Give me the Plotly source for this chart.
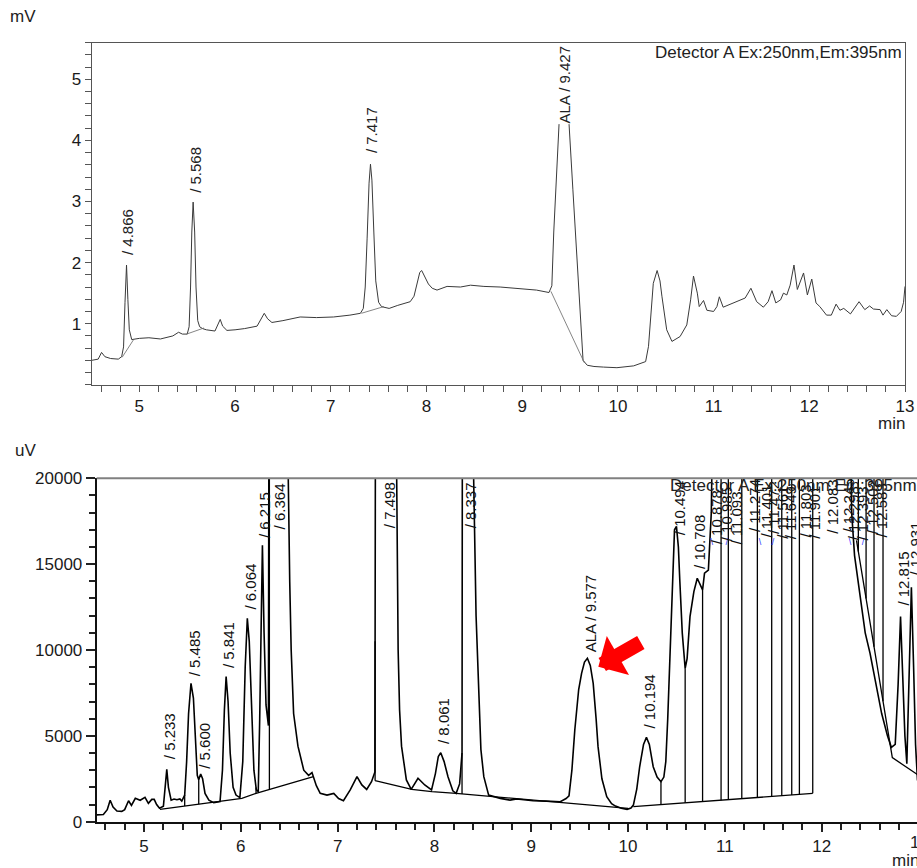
import numpy as np
import plotly.graph_objects as go

# ---------------- DATA ----------------
# Top chromatogram (Detector A, mV) – retention time (min) / signal
top_t = [4.50, 4.57, 4.605, 4.64, 4.70, 4.78, 4.815, 4.835, 4.850, 4.866, 4.880, 4.895, 4.92, 4.96,
         5.00, 5.10, 5.22, 5.35, 5.41, 5.45, 5.50, 5.52, 5.535, 5.548, 5.562, 5.578, 5.592, 5.61,
         5.63, 5.66, 5.70, 5.79, 5.82, 5.845, 5.87, 5.915, 6.00, 6.10, 6.23, 6.27, 6.305, 6.34,
         6.385, 6.50, 6.68, 6.85, 7.03, 7.20, 7.31, 7.34, 7.36, 7.38, 7.40, 7.415, 7.43, 7.45,
         7.47, 7.50, 7.53, 7.555, 7.61, 7.70, 7.83, 7.87, 7.90, 7.93, 7.95, 7.98, 8.02, 8.06,
         8.11, 8.215, 8.355, 8.46, 8.60, 8.77, 9.02, 9.15, 9.28, 9.31, 9.33, 9.36, 9.385, 9.44,
         9.49, 9.53, 9.556, 9.585, 9.61, 9.636, 9.68, 9.75, 9.85, 9.99, 10.165, 10.29, 10.32,
         10.35, 10.37, 10.41, 10.44, 10.46, 10.49, 10.51, 10.565, 10.65, 10.72, 10.76, 10.79,
         10.83, 10.85, 10.895, 10.93, 11.00, 11.035, 11.06, 11.10, 11.21, 11.33, 11.39, 11.45,
         11.52, 11.57, 11.61, 11.65, 11.70, 11.73, 11.765, 11.80, 11.84, 11.875, 11.94, 11.98,
         12.026, 12.07, 12.11, 12.18, 12.23, 12.28, 12.32, 12.36, 12.43, 12.52, 12.58, 12.63,
         12.67, 12.74, 12.77, 12.81, 12.86, 12.91, 12.96, 12.985, 13.00]
top_mv = [0.40, 0.42, 0.53, 0.46, 0.43, 0.42, 0.46, 0.62, 1.35, 1.96, 1.40, 0.90, 0.74, 0.75,
          0.76, 0.77, 0.75, 0.80, 0.86, 0.83, 0.83, 0.95, 1.60, 2.50, 2.99, 2.50, 1.60, 1.05,
          0.95, 0.92, 0.90, 0.88, 0.98, 1.07, 0.96, 0.89, 0.90, 0.92, 0.96, 1.08, 1.17, 1.08,
          1.02, 1.05, 1.11, 1.10, 1.11, 1.14, 1.17, 1.25, 1.60, 2.40, 3.30, 3.61, 3.35, 2.50,
          1.70, 1.35, 1.28, 1.27, 1.25, 1.30, 1.36, 1.45, 1.65, 1.84, 1.87, 1.78, 1.65, 1.58,
          1.55, 1.61, 1.60, 1.63, 1.61, 1.60, 1.57, 1.55, 1.51, 1.62, 2.50, 3.50, 4.26, 5.00,
          4.26, 3.19, 2.50, 1.72, 1.06, 0.40, 0.32, 0.30, 0.29, 0.28, 0.31, 0.38, 0.63,
          1.20, 1.66, 1.87, 1.70, 1.45, 1.10, 0.90, 0.71, 0.79, 0.98, 1.39, 1.78,
          1.50, 1.28, 1.38, 1.22, 1.20, 1.28, 1.44, 1.27, 1.34, 1.42, 1.58, 1.36,
          1.27, 1.36, 1.54, 1.34, 1.39, 1.50, 1.47, 1.63, 1.96, 1.56, 1.83, 1.47,
          1.73, 1.34, 1.28, 1.14, 1.14, 1.32, 1.22, 1.25, 1.16, 1.36, 1.23, 1.29,
          1.24, 1.23, 1.14, 1.23, 1.13, 1.12, 1.20, 1.35, 1.61]

# Top integration baselines (None = break)
top_base_t = [4.82, 4.94, None, 5.494, 5.675, None, 7.32, 7.555, None, 9.30, 9.65]
top_base_mv = [0.45, 0.74, None, 0.83, 0.93, None, 1.17, 1.28, None, 1.53, 0.36]

# Top peak labels: retention time, label, label-bottom value (mV)
top_lab_t = [4.866, 5.568, 7.417, 9.427]
top_lab_txt = ["/ 4.866", "/ 5.568", "/ 7.417", "ALA / 9.427"]
top_lab_y = [2.10, 3.12, 3.77, 4.26]

# Bottom chromatogram (uV)
bot_t = [4.512, 4.58, 4.62, 4.65, 4.68, 4.72, 4.77, 4.80, 4.84, 4.87, 4.91, 4.96, 5.01, 5.045,
         5.08, 5.105, 5.13, 5.16, 5.20, 5.218, 5.235, 5.252, 5.28, 5.31, 5.34, 5.37, 5.39, 5.42,
         5.44, 5.46, 5.485, 5.51, 5.53, 5.55, 5.565, 5.585, 5.605, 5.63, 5.67, 5.72, 5.785,
         5.81, 5.83, 5.848, 5.868, 5.89, 5.92, 5.95, 5.99, 6.02, 6.045, 6.067, 6.087, 6.11,
         6.135, 6.16, 6.18, 6.195, 6.21, 6.223, 6.24, 6.26, 6.285, 6.30, 6.39, 6.49, 6.505,
         6.52, 6.545, 6.59, 6.65, 6.70, 6.735, 6.78, 6.82, 6.89, 6.96, 7.01, 7.06, 7.13, 7.20,
         7.25, 7.30, 7.35, 7.385, 7.40, 7.50, 7.61, 7.625, 7.64, 7.66, 7.71, 7.76, 7.83, 7.90,
         7.97, 8.01, 8.04, 8.065, 8.10, 8.14, 8.19, 8.224, 8.26, 8.285, 8.295, 8.35, 8.405,
         8.43, 8.457, 8.48, 8.51, 8.56, 8.68, 8.78, 8.85, 8.95, 9.02, 9.15, 9.30, 9.36, 9.39,
         9.42, 9.45, 9.49, 9.52, 9.55, 9.58, 9.61, 9.64, 9.67, 9.69, 9.73, 9.78, 9.83, 9.87,
         9.93, 9.99, 10.03, 10.055, 10.09, 10.12, 10.16, 10.19, 10.22, 10.26, 10.30, 10.34,
         10.37, 10.39, 10.41, 10.43, 10.455, 10.48, 10.50, 10.52, 10.535, 10.56, 10.59, 10.61,
         10.64, 10.68, 10.715, 10.74, 10.77, 10.79, 10.83, 10.86, 10.89, 11.2, 11.6, 12.0,
         12.28, 12.31, 12.34, 12.40, 12.45, 12.50, 12.56, 12.62, 12.68, 12.72, 12.76, 12.79,
         12.815, 12.84, 12.86, 12.88, 12.90, 12.927, 12.95, 12.97, 12.99]
bot_uv = [400, 420, 700, 1250, 850, 620, 600, 700, 1220, 950, 1360, 1250, 1420, 1070,
          1300, 1300, 1000, 780, 900, 2000, 3050, 2000, 1250, 1320, 1280, 1330, 1200, 1550,
          3500, 6300, 8060, 7200, 5000, 2700, 2450, 2780, 2500, 1650, 1250, 1110, 1170,
          3000, 6500, 8450, 7000, 4000, 2000, 1550, 1400, 3500, 9000, 11850, 10500, 6500,
          3000, 1850, 1750, 6000, 13000, 16100, 11000, 6800, 5600, 60000, 250000, 20000, 14000,
          10000, 6300, 4400, 3000, 2700, 2860, 2100, 1650, 1550, 1650, 1350, 1220, 1850, 2620,
          2140, 1880, 2330, 2900, 60000, 250000, 20000, 10000, 6500, 4400, 2430, 1880, 2530, 2140,
          1850, 2800, 3800, 4020, 3500, 2620, 1800, 1650, 2200, 4000, 60000, 250000, 20000,
          12000, 7300, 4200, 2620, 1550, 1360, 1260, 1320, 1250, 1220, 1200, 1165, 1350, 1500,
          3000, 5340, 7700, 8640, 9300, 9516, 9100, 8060, 6000, 4370, 2500, 1460, 1050, 910,
          780, 720, 800, 970, 1900, 3200, 4500, 4910, 4500, 3200, 2600, 2330,
          2600, 3500, 6000, 9200, 13500, 17000, 17200, 16000, 14000, 11000, 8930, 9500,
          11940, 13400, 14180, 13900, 13500, 14470, 14660, 18000, 30000, 40000, 40000, 40000,
          30000, 18000, 15500, 13000, 11000, 9800, 8000, 6300, 5000, 4330, 4500, 8000,
          11950, 8500, 5000, 3380, 8000, 13660, 9000, 4500, 2400]

# Bottom integration baselines (None = break)
bot_base_t = [5.165, 6.01, 6.157, 6.295, 6.75, None, 7.387, 7.766, 7.973, 8.224, 10.0, None,
              10.055, 11.908, None, 12.36, 12.73, 12.99]
bot_base_uv = [718, 1359, 1650, 1884, 2622, None, 2390, 1884, 1748, 1650, 777, None,
               874, 1650, None, 16385, 3730, 2750]

# Peak boundary drop lines (baseline -> signal)
drop_t = [5.42, 5.565, 6.157, 6.295, 7.387, 8.285, 10.34, 10.59, 10.77, 10.961, 11.036,
          11.175, 11.336, 11.484, 11.588, 11.691, 11.770, 11.908]
# drop lines in the late cluster (baseline -> off scale)
drop2_t = [12.379, 12.459, 12.541, 12.634]

# Bottom peak labels
bot_lab_t = [5.233, 5.485, 5.600, 5.841, 6.064, 6.215, 6.364, 7.498, 8.061, 8.337, 9.577,
             10.194, 10.494, 10.708, 10.878, 10.985, 11.093, 11.274, 11.401, 11.472, 11.561,
             11.649, 11.803, 11.901, 12.083, 12.245, 12.298, 12.393, 12.502, 12.583, 12.815, 12.931]
bot_lab_txt = ["/ 5.233", "/ 5.485", "/ 5.600", "/ 5.841", "/ 6.064", "/ 6.215", "/ 6.364",
               "/ 7.498", "/ 8.061", "/ 8.337", "ALA / 9.577", "/ 10.194", "/ 10.494",
               "/ 10.708", "/ 10.878", "/ 10.985", "/ 11.093", "/ 11.274", "/ 11.401",
               "/ 11.472", "/ 11.561", "/ 11.649", "/ 11.803", "/ 11.901", "/ 12.083",
               "/ 12.245", "/ 12.298", "/ 12.393", "/ 12.502", "/ 12.583", "/ 12.815", "/ 12.931"]
bot_lab_y = [3560, 8410, 3030, 8920, 12300, 16440, 16970, 17030, 4490, 17030, 9810,
             5360, 16620, 14640, 16100, 16300, 16100, 16800, 16500, 16700, 16400,
             16400, 16500, 16400, 16700, 16800, 16300, 16300, 16700, 16500, 12500, 14250]

# small blue peak-marker ticks
mark_t = [10.865, 11.02, 11.364, 11.498, 12.293, 12.428]
mark_txt = ["\\", "/", "\\", "/", "\\", "/"]

TOP_YMAX = 5.6
BOT_YMAX = 20000

# ---------------- FIGURE ----------------
FONT = "Liberation Sans, Arial, sans-serif"
W, H = 917, 868

fig = go.Figure()

fig.add_trace(go.Scatter(x=top_t, y=top_mv, mode="lines", xaxis="x", yaxis="y",
                         line=dict(color="#3a3a3a", width=1), hoverinfo="skip"))
fig.add_trace(go.Scatter(x=top_base_t, y=top_base_mv, mode="lines", xaxis="x", yaxis="y",
                         line=dict(color="#666666", width=0.8), connectgaps=False, hoverinfo="skip"))

fig.add_trace(go.Scatter(x=bot_t, y=bot_uv, mode="lines", xaxis="x2", yaxis="y2",
                         line=dict(color="black", width=1.6), hoverinfo="skip"))
fig.add_trace(go.Scatter(x=bot_base_t, y=bot_base_uv, mode="lines", xaxis="x2", yaxis="y2",
                         line=dict(color="black", width=1.3), connectgaps=False, hoverinfo="skip"))

# drop lines built from the data
bx = [t for t in bot_base_t if t is not None]
by = [v for v in bot_base_uv if v is not None]
dx, dy = [], []
for t in drop_t:
    dx += [t, t, None]
    dy += [float(np.interp(t, bx, by)), float(np.interp(t, bot_t, bot_uv)), None]
seg4_t = bot_base_t[-3:]
seg4_v = bot_base_uv[-3:]
for t in drop2_t:
    dx += [t, t, None]
    dy += [float(np.interp(t, seg4_t, seg4_v)), BOT_YMAX * 1.2, None]
fig.add_trace(go.Scatter(x=dx, y=dy, mode="lines", xaxis="x2", yaxis="y2",
                         line=dict(color="black", width=1.3), connectgaps=False, hoverinfo="skip"))

fig.add_trace(go.Scatter(x=mark_t, y=[16250] * len(mark_t), mode="text", text=mark_txt,
                         textfont=dict(family=FONT, size=9, color="#2a3bff"),
                         xaxis="x2", yaxis="y2", hoverinfo="skip"))

annotations = []
for t, txt, yv in zip(top_lab_t, top_lab_txt, top_lab_y):
    annotations.append(dict(x=t, y=yv, xref="x", yref="y", text=txt, textangle=-90,
                            xanchor="center", yanchor="bottom", showarrow=False, xshift=1,
                            font=dict(family=FONT, size=15, color="#222"),
                            bgcolor="white" if txt.startswith("ALA") else "rgba(0,0,0,0)",
                            borderpad=0))
for t, txt, yv in zip(bot_lab_t, bot_lab_txt, bot_lab_y):
    annotations.append(dict(x=t, y=yv, xref="x2", yref="y2", text=txt, textangle=-90,
                            xanchor="center", yanchor="bottom", showarrow=False, xshift=3,
                            font=dict(family=FONT, size=15, color="#111"), borderpad=0))

# red arrow pointing at ALA peak
annotations.append(dict(x=9.693, y=9030, xref="x2", yref="y2", text="", showarrow=True,
                        ax=44, ay=-25, arrowcolor="#ff0000", arrowwidth=15, arrowsize=0.5,
                        arrowhead=1, standoff=0))

# texts
annotations += [
    dict(x=22.5 / W, y=1 - 16 / H, xref="paper", yref="paper", text="mV", showarrow=False,
         font=dict(family=FONT, size=17, color="#222"), xanchor="center", yanchor="middle"),
    dict(x=25 / W, y=1 - 450 / H, xref="paper", yref="paper", text="uV", showarrow=False,
         font=dict(family=FONT, size=17, color="#222"), xanchor="center", yanchor="middle"),
    dict(x=891.5 / W, y=1 - 423 / H, xref="paper", yref="paper", text="min", showarrow=False,
         font=dict(family=FONT, size=17, color="#222"), xanchor="center", yanchor="middle"),
    dict(x=905.5 / W, y=1 - 860 / H, xref="paper", yref="paper", text="min", showarrow=False,
         font=dict(family=FONT, size=17, color="#222"), xanchor="center", yanchor="middle"),
    dict(x=919 / W, y=1 - 842 / H, xref="paper", yref="paper", text="13", showarrow=False,
         font=dict(family=FONT, size=17, color="#222"), xanchor="center", yanchor="middle"),
    dict(x=904 / W, y=1 - 52.7 / H, xref="paper", yref="paper",
         text="Detector A Ex:250nm,Em:395nm", showarrow=False,
         font=dict(family=FONT, size=17, color="#222"), xanchor="right", yanchor="middle"),
    dict(x=668 / W, y=1 - 486 / H, xref="paper", yref="paper",
         text="Detector A Ex:250nm,Em:395nm", showarrow=False,
         font=dict(family=FONT, size=17, color="#222"), xanchor="left", yanchor="middle"),
]

tickfont = dict(family=FONT, size=17, color="#1a1a1a")

fig.update_layout(
    width=W, height=H, margin=dict(l=0, r=0, t=0, b=0, autoexpand=False),
    paper_bgcolor="white", plot_bgcolor="white", showlegend=False,
    annotations=annotations,
    xaxis=dict(domain=[91.5 / W, 905 / W], range=[4.5, 13], anchor="y", automargin=False,
               tickmode="linear", tick0=5, dtick=1, ticks="outside", ticklen=6,
               tickcolor="#555", tickwidth=1, showline=True, linecolor="#555", linewidth=1,
               mirror=True, showgrid=False, zeroline=False, tickfont=tickfont,
               minor=dict(tickmode="linear", tick0=4.6, dtick=0.2, ticks="outside", ticklen=6,
                          tickcolor="#555", tickwidth=1, showgrid=False)),
    yaxis=dict(domain=[(H - 384.8) / H, (H - 42.6) / H], range=[0, TOP_YMAX], anchor="x",
               automargin=False,
               tickmode="array", tickvals=[1, 2, 3, 4, 5], ticks="outside", ticklen=6,
               tickcolor="#555", tickwidth=1, showline=True, linecolor="#555", linewidth=1,
               mirror=True, showgrid=False, zeroline=False, tickfont=tickfont,
               minor=dict(tickmode="linear", tick0=0, dtick=0.2, ticks="outside", ticklen=6,
                          tickcolor="#555", tickwidth=1, showgrid=False)),
    xaxis2=dict(domain=[96.7 / W, 1.0], range=[4.511, 12.985], anchor="y2", automargin=False,
                tickmode="linear", tick0=5, dtick=1, ticks="outside", ticklen=8,
                tickcolor="#222", tickwidth=1.5, showline=True, linecolor="#111", linewidth=2,
                mirror=False, showgrid=False, zeroline=False, tickfont=tickfont,
                minor=dict(tickmode="linear", tick0=4.6, dtick=0.2, ticks="outside", ticklen=6,
                           tickcolor="#222", tickwidth=1.5, showgrid=False)),
    yaxis2=dict(domain=[(H - 821.7) / H, (H - 478.3) / H], range=[0, BOT_YMAX], anchor="x2",
                automargin=False, tickformat="d",
                tickmode="linear", tick0=0, dtick=5000, ticks="outside", ticklen=9,
                tickcolor="#222", tickwidth=1.5, showline=True, linecolor="#111", linewidth=2,
                showgrid=False, zeroline=False, tickfont=tickfont,
                minor=dict(tickmode="linear", tick0=0, dtick=1000, ticks="outside", ticklen=6,
                           tickcolor="#222", tickwidth=1.5, showgrid=False)),
    shapes=[dict(type="line", xref="x2 domain", yref="y2 domain", x0=0, x1=1, y0=1, y1=1,
                 line=dict(color="#808080", width=2))],
)

fig.write_html("out.html", config={"displayModeBar": False},
               post_script="document.body.style.margin='0';document.body.style.overflow='hidden';")
